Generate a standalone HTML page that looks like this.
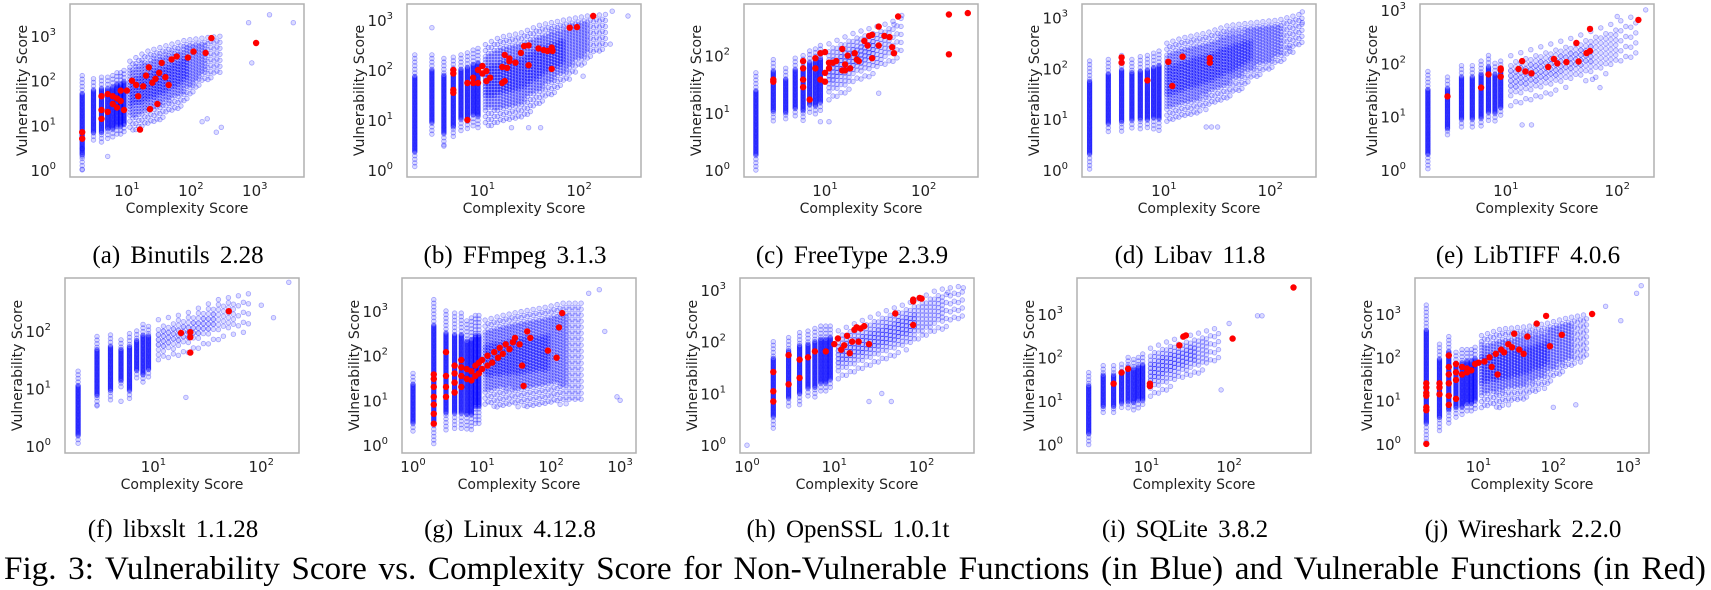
<!DOCTYPE html>
<html><head><meta charset="utf-8">
<style>
html,body{margin:0;padding:0;background:#fff;}
svg{display:block;}
.tick{font-family:"DejaVu Sans","Liberation Sans",sans-serif;font-size:15px;fill:#222;}
.sup{font-size:10px;}
.axl{font-family:"DejaVu Sans","Liberation Sans",sans-serif;font-size:14px;fill:#222;}
.cap{font-family:"Liberation Serif",serif;font-size:25px;fill:#000;}
</style></head>
<body>
<svg id="fig" width="1711" height="590" viewBox="0 0 1711 590" xmlns="http://www.w3.org/2000/svg"></svg>
<script>
// ---------- data ----------
const colX = [2,3,4,5,6,7,8,9];
const gColX = [1,2,3,4,5,6,7,8,9];

const aColLo = [1,4,4,5,5,6,6,6];
const aColHi = [130,110,120,120,130,150,150,170];
const aBandX = [10,20,40,80,150,300];
const aBandLo = [7,9,15,30,80,150];
const aBandHi = [250,450,600,800,900,1000];
const aRedX = [2,2,4,4,4,5,5,6,6,7,7,8,8,9,10,12,14,16,15,18,20,22,23,25,28,30,32,35,40,45,50,60,90,110,170,210,1050];
const aRedY = [7,5,14,22,45,20,50,30,45,25,40,35,60,22,60,100,80,8,45,75,130,200,23,90,110,30,150,250,120,80,300,350,330,450,420,900,700];
const aOutX = [1700,4000,800,900,250,300,150,180,5,2,2,2];
const aOutY = [3000,2000,2000,250,7,9,12,14,2,1,2,3];

const bColLo = [1,5,3,4,6,6,7,7];
const bColHi = [200,200,170,180,200,220,250,270];
const bBandX = [10,15,25,40,70,120,200];
const bBandLo = [7,8,10,20,50,150,300];
const bBandHi = [300,450,550,800,1000,1200,1300];
const bRedX = [5,5,5,5,7,7,8,8,9,9,10,10,11,11,12,16,16,17,17,18,19,19,22,25,27,30,30,38,43,47,52,53,52,80,95,140];
const bRedY = [100,85,40,35,10,55,70,55,100,55,120,85,95,60,70,115,55,60,200,110,170,150,140,220,300,310,125,270,250,240,280,240,105,700,720,1200];
const bOutX = [220,320,210,110,3,4,30,40,20];
const bOutY = [1500,1200,330,75,700,3,7,7,7];

const cColLo = [1,7,7,8,7,9,9,10];
const cColHi = [50,85,60,90,100,120,130,150];
const cBandX = [10,20,40,60];
const cBandLo = [12,30,60,100];
const cBandHi = [150,250,350,450];
const cRedX = [3,3,6,6,6,6,7,8,8,9,9,10,10,10,11,11,12,13,15,15,16,16,17,18,20,21,22,25,27,28,30,30,35,35,40,45,48,50,55,180,180,280];
const cRedY = [38,35,80,60,38,28,17,90,60,110,38,115,50,35,75,60,75,80,130,55,55,70,100,60,110,85,80,180,150,220,230,90,320,150,220,210,140,110,480,520,105,550];
const cOutX = [35,9,11,60,50];
const cOutY = [22,7,7,500,350];

const dColLo = [1,5,5,6,6,6,6,6];
const dColHi = [140,150,180,150,170,180,200,220];
const dBandX = [10,15,25,40,70,120,200];
const dBandLo = [7,10,15,25,60,120,300];
const dBandHi = [300,400,500,700,800,900,1200];
const dRedX = [4,4,7,11,12,15,27,27];
const dRedY = [165,130,58,135,45,170,160,130];
const dOutX = [200,200,150,32,28,25];
const dOutY = [1300,800,250,7,7,7];

const eColLo = [1,4,6,6,6,8,8,10];
const eColHi = [70,55,90,90,110,140,100,110];
const eBandX = [10,20,40,80,150];
const eBandLo = [15,20,40,60,150];
const eBandHi = [130,200,300,500,800];
const eRedX = [3,6,7,9,9,9,13,14,15,17,24,27,29,35,43,45,53,57,57,155];
const eRedY = [24,35,62,80,75,56,78,110,70,65,85,120,100,105,240,108,155,440,170,650];
const eOutX = [180,100,70,17,14,60];
const eOutY = [1000,750,35,7,7,50];

const fColLo = [1,5,6,10,6,15,12,15];
const fColHi = [20,80,85,70,90,100,130,120];
const fBandX = [10,20,40,80];
const fBandLo = [25,40,70,100];
const fBandHi = [150,200,350,450];
const fRedX = [18,22,22,22,50];
const fRedY = [92,95,78,42,220];
const fOutX = [20,3,5,180,100,130];
const fOutY = [7,5,6,700,280,170];

const gColLo = [2,1,2,2,2,2,2,3,3];
const gColHi = [40,1800,1000,900,900,600,700,800,800];
const gBandX = [10,20,40,80,150,300];
const gBandLo = [7,7,7,8,8,10];
const gBandHi = [600,800,1000,1200,1500,1500];
const gRedX = [2,2,2,2,2,2,2,3,3,3,3,4,4,4,4,5,5,5,5,6,6,7,7,8,8,9,9,10,10,12,12,14,15,17,18,20,22,25,28,30,35,38,45,50,40,90,120,145,130];
const gRedY = [3,5,8,12,20,30,38,12,20,35,120,15,25,40,60,20,35,55,80,30,50,28,45,35,60,40,70,50,80,60,100,70,120,90,150,110,180,140,200,250,180,60,350,250,21,130,90,900,430];
const gOutX = [600,1000,900,500,350];
const gOutY = [350,10,12,3000,2500];

const hColLo = [2,5,6,8,8,10,10,12];
const hColHi = [100,120,150,160,180,200,200,200];
const hBandX = [10,20,40,80,150,300];
const hBandLo = [15,25,40,80,150,300];
const hBandHi = [150,250,400,600,1000,1200];
const hRedX = [2,2,2,3,3,4,4,5,6,8,10,11,12,13,14,15,16,17,18,19,20,22,25,50,80,80,95,100,80];
const hRedY = [26,11,7,55,15,45,20,50,65,65,90,115,70,85,130,60,100,170,190,100,180,200,90,350,650,600,700,680,210];
const hOutX = [1,300,200,25,35,45];
const hOutY = [1,1100,900,7,10,7];

const iColLo = [1,5,5,6,6,6,7,7];
const iColHi = [45,65,65,70,100,90,100,120];
const iBandX = [10,20,40,80];
const iBandLo = [10,20,40,80];
const iBandHi = [150,250,350,500];
const iRedX = [4,5,6,11,11,25,28,30,110,600];
const iRedY = [25,45,55,25,22,190,300,320,270,4000];
const iOutX = [250,220,80,100];
const iOutY = [900,900,18,600];

const jColLo = [1,2,3,4,4,5,5,6];
const jColHi = [1600,200,300,130,150,150,150,170];
const jBandX = [10,20,40,80,150,300];
const jBandLo = [6,7,10,20,50,100];
const jBandHi = [300,450,500,600,800,1000];
const jRedX = [2,2,2,2,2,2,2,3,3,3,4,4,4,4,4,4,5,5,5,5,6,6,7,7,8,9,10,12,14,15,17,18,20,22,25,28,30,35,40,45,60,80,90,130,330];
const jRedY = [1,6,7,13,15,20,25,14,20,25,8,13,25,40,60,110,11,30,45,70,40,60,45,55,50,70,75,80,100,60,120,40,150,130,200,170,350,150,120,300,600,900,180,330,1000];
const jOutX = [1300,1500,800,500,100,200];
const jOutY = [3000,4500,700,1500,7,8];

const captions = ["(a) Binutils 2.28","(b) FFmpeg 3.1.3","(c) FreeType 2.3.9","(d) Libav 11.8","(e) LibTIFF 4.0.6","(f) libxslt 1.1.28","(g) Linux 4.12.8","(h) OpenSSL 1.0.1t","(i) SQLite 3.8.2","(j) Wireshark 2.2.0"];

// ---------- layout ----------
const panels = [
 {id:'binutils', L:70, T:4, B:177, xr:[0.11,3.77], yr:[-0.16,3.72], cx:colX, lo:aColLo, hi:aColHi, bx:aBandX, bl:aBandLo, bh:aBandHi, rx:aRedX, ry:aRedY, ox:aOutX, oy:aOutY, sp:3},
 {id:'ffmpeg', L:407, T:4, B:177, xr:[0.22,2.64], yr:[-0.14,3.32], cx:colX, lo:bColLo, hi:bColHi, bx:bBandX, bl:bBandLo, bh:bBandHi, rx:bRedX, ry:bRedY, ox:bOutX, oy:bOutY, sp:3},
 {id:'freetype', L:744, T:4, B:177, xr:[0.18,2.55], yr:[-0.12,2.9], cx:colX, lo:cColLo, hi:cColHi, bx:cBandX, bl:cBandLo, bh:cBandHi, rx:cRedX, ry:cRedY, ox:cOutX, oy:cOutY, sp:4},
 {id:'libav', L:1082, T:4, B:177, xr:[0.23,2.43], yr:[-0.14,3.27], cx:colX, lo:dColLo, hi:dColHi, bx:dBandX, bl:dBandLo, bh:dBandHi, rx:dRedX, ry:dRedY, ox:dOutX, oy:dOutY, sp:3},
 {id:'libtiff', L:1420, T:4, B:177, xr:[0.23,2.33], yr:[-0.13,3.11], cx:colX, lo:eColLo, hi:eColHi, bx:eBandX, bl:eBandLo, bh:eBandHi, rx:eRedX, ry:eRedY, ox:eOutX, oy:eOutY, sp:5},
 {id:'libxslt', L:65, T:278, B:453, xr:[0.18,2.35], yr:[-0.12,2.92], cx:colX, lo:fColLo, hi:fColHi, bx:fBandX, bl:fBandLo, bh:fBandHi, rx:fRedX, ry:fRedY, ox:fOutX, oy:fOutY, sp:5},
 {id:'linux', L:402, T:278, B:453, xr:[-0.16,3.23], yr:[-0.18,3.74], cx:gColX, lo:gColLo, hi:gColHi, bx:gBandX, bl:gBandLo, bh:gBandHi, rx:gRedX, ry:gRedY, ox:gOutX, oy:gOutY, sp:3},
 {id:'openssl', L:740, T:278, B:453, xr:[-0.08,2.6], yr:[-0.15,3.23], cx:colX, lo:hColLo, hi:hColHi, bx:hBandX, bl:hBandLo, bh:hBandHi, rx:hRedX, ry:hRedY, ox:hOutX, oy:hOutY, sp:4},
 {id:'sqlite', L:1077, T:278, B:453, xr:[0.16,2.99], yr:[-0.19,3.82], cx:colX, lo:iColLo, hi:iColHi, bx:iBandX, bl:iBandLo, bh:iBandHi, rx:iRedX, ry:iRedY, ox:iOutX, oy:iOutY, sp:4},
 {id:'wireshark', L:1415, T:278, B:453, xr:[0.15,3.28], yr:[-0.21,3.83], cx:colX, lo:jColLo, hi:jColHi, bx:jBandX, bl:jBandLo, bh:jBandHi, rx:jRedX, ry:jRedY, ox:jOutX, oy:jOutY, sp:3}
];
const W = 234;
const NS = 'http://www.w3.org/2000/svg';
const svg = document.getElementById('fig');
function mk(tag, parent){ const e=document.createElementNS(NS,tag); parent.appendChild(e); return e; }
const lg = Math.log10;

function blueDot(g, x, y, strong){
  const c = mk('circle', g);
  c.setAttribute('cx', x.toFixed(1)); c.setAttribute('cy', y.toFixed(1)); c.setAttribute('r', 2.3);
  c.setAttribute('fill', strong ? 'rgba(0,0,255,0.22)' : 'rgba(0,0,255,0.14)');
  c.setAttribute('stroke', strong ? 'rgba(0,0,255,0.5)' : 'rgba(0,0,255,0.32)');
  c.setAttribute('stroke-width','0.8');
  
  
}

panels.forEach((p, idx) => {
  const g = mk('g', svg);
  
  
  const sx = v => p.L + (lg(v) - p.xr[0]) / (p.xr[1]-p.xr[0]) * W;
  const sy = v => p.B - (lg(v) - p.yr[0]) / (p.yr[1]-p.yr[0]) * (p.B-p.T);
  const pyl = l => p.B - (l - p.yr[0]) / (p.yr[1]-p.yr[0]) * (p.B-p.T);
  const clip = mk('clipPath', svg); clip.setAttribute('id','clip'+idx);
  const cr = mk('rect', clip); cr.setAttribute('x',p.L); cr.setAttribute('y',p.T); cr.setAttribute('width',W); cr.setAttribute('height',p.B-p.T);
  const pts = mk('g', g); pts.setAttribute('clip-path','url(#clip'+idx+')');
  
  
  // columns
  p.cx.forEach((xv, i) => {
    const x = sx(xv), y1 = sy(p.hi[i]), y0 = sy(p.lo[i]);
    const h = Math.max(1, y0 - y1);
    let n = 0;
    for (let y = y1; y <= y0; y += 1.2, n++) {
      const f = (y - y1) / h;
      const edge = f < 0.18 || f > 0.85;
      if (edge && n % 3 !== 0) continue;
      blueDot(pts, x, y, !edge);
    }
  });
  // dense band
  const bx0 = sx(p.bx[0]), bx1 = sx(p.bx[p.bx.length-1]);
  let k = 0;
  for (let x = bx0 + p.sp; x <= bx1; x += p.sp, k++) {
    const l = p.xr[0] + (x - p.L) / W * (p.xr[1]-p.xr[0]);
    let j = 0; while (j < p.bx.length-2 && lg(p.bx[j+1]) < l) j++;
    const t = (l - lg(p.bx[j])) / (lg(p.bx[j+1]) - lg(p.bx[j]));
    const lo = lg(p.bl[j]) + t*(lg(p.bl[j+1])-lg(p.bl[j]));
    const hi = lg(p.bh[j]) + t*(lg(p.bh[j+1])-lg(p.bh[j]));
    const yt = pyl(hi), yb = pyl(lo);
    const xf = (x - bx0) / Math.max(1, bx1 - bx0);
    let n = 0;
    for (let y = yt + (k%2)*p.sp/2; y <= yb; y += p.sp, n++) {
      const f = (y - yt) / Math.max(1, yb - yt);
      const outer = f < 0.12 || f > 0.8 || xf > 0.85;
      const mid = f < 0.28 || f > 0.65 || xf > 0.65;
      if (outer && (n + k) % 2 !== 0) continue;
      blueDot(pts, x, y, !mid);
    }
  }
  p.ox.forEach((xv, i) => blueDot(pts, sx(xv), sy(p.oy[i]), false));
  // red
  const rg = mk('g', g);
  
  
  rg.setAttribute('clip-path','url(#clip'+idx+')');
  p.rx.forEach((xv, i) => {
    const c = mk('circle', rg);
    c.setAttribute('cx', sx(xv).toFixed(1)); c.setAttribute('cy', sy(p.ry[i]).toFixed(1)); c.setAttribute('r', 3.2);
    c.setAttribute('fill', '#f00');
    
    
  });
  // frame
  const fr = mk('rect', g);
  fr.setAttribute('x', p.L); fr.setAttribute('y', p.T); fr.setAttribute('width', W); fr.setAttribute('height', p.B-p.T);
  fr.setAttribute('fill','none'); fr.setAttribute('stroke','#b0b0b0'); fr.setAttribute('stroke-width','1.5');
  
  
  // x ticks
  for (let d = Math.ceil(p.xr[0]); d <= Math.floor(p.xr[1]); d++) {
    const t = mk('text', g); t.setAttribute('class','tick');
    t.setAttribute('x', p.L + (d - p.xr[0])/(p.xr[1]-p.xr[0])*W); t.setAttribute('y', p.B + 19);
    t.setAttribute('text-anchor','middle');
    
    
    t.innerHTML = '10<tspan class="sup" dy="-7">' + d + '</tspan>';
  }
  // y ticks
  for (let d = Math.ceil(p.yr[0]); d <= Math.floor(p.yr[1]); d++) {
    const t = mk('text', g); t.setAttribute('class','tick');
    t.setAttribute('x', p.L - 14); t.setAttribute('y', pyl(d) + 6);
    t.setAttribute('text-anchor','end');
    
    
    t.innerHTML = '10<tspan class="sup" dy="-7">' + d + '</tspan>';
  }
  const xl = mk('text', g); xl.setAttribute('class','axl');
  xl.setAttribute('x', p.L + W/2); xl.setAttribute('y', p.B + 36); xl.setAttribute('text-anchor','middle');
  
  
  xl.textContent = 'Complexity Score';
  const yl = mk('text', g); yl.setAttribute('class','axl');
  const ycx = p.L - 43, ycy = (p.T + p.B)/2;
  yl.setAttribute('x', ycx); yl.setAttribute('y', ycy); yl.setAttribute('text-anchor','middle');
  yl.setAttribute('transform', 'rotate(-90 ' + ycx + ' ' + ycy + ')');
  
  
  yl.textContent = 'Vulnerability Score';
  const cap = mk('text', g); cap.setAttribute('class','cap');
  cap.setAttribute('x', p.L + W/2 - 9); cap.setAttribute('y', p.T < 100 ? 263 : 537);
  cap.setAttribute('text-anchor','middle'); cap.setAttribute('word-spacing','4');
  
  
  cap.textContent = captions[idx];
});
const fc = mk('text', svg); fc.setAttribute('class','cap');
fc.setAttribute('x', 4); fc.setAttribute('y', 579);
fc.setAttribute('style','font-size:28px');


fc.textContent = 'Fig. 3: Vulnerability Score vs. Complexity Score for Non-Vulnerable Functions (in Blue) and Vulnerable Functions (in Red)';
const natural28 = fc.getComputedTextLength();
const fs = Math.min(40, 28 * 1650 / natural28);
fc.setAttribute('style','font-size:' + fs.toFixed(2) + 'px');
const natural = fc.getComputedTextLength();
const spaces = (fc.textContent.match(/ /g) || []).length;
fc.setAttribute('word-spacing', ((1702 - natural) / spaces).toFixed(2));
</script>
</body></html>
